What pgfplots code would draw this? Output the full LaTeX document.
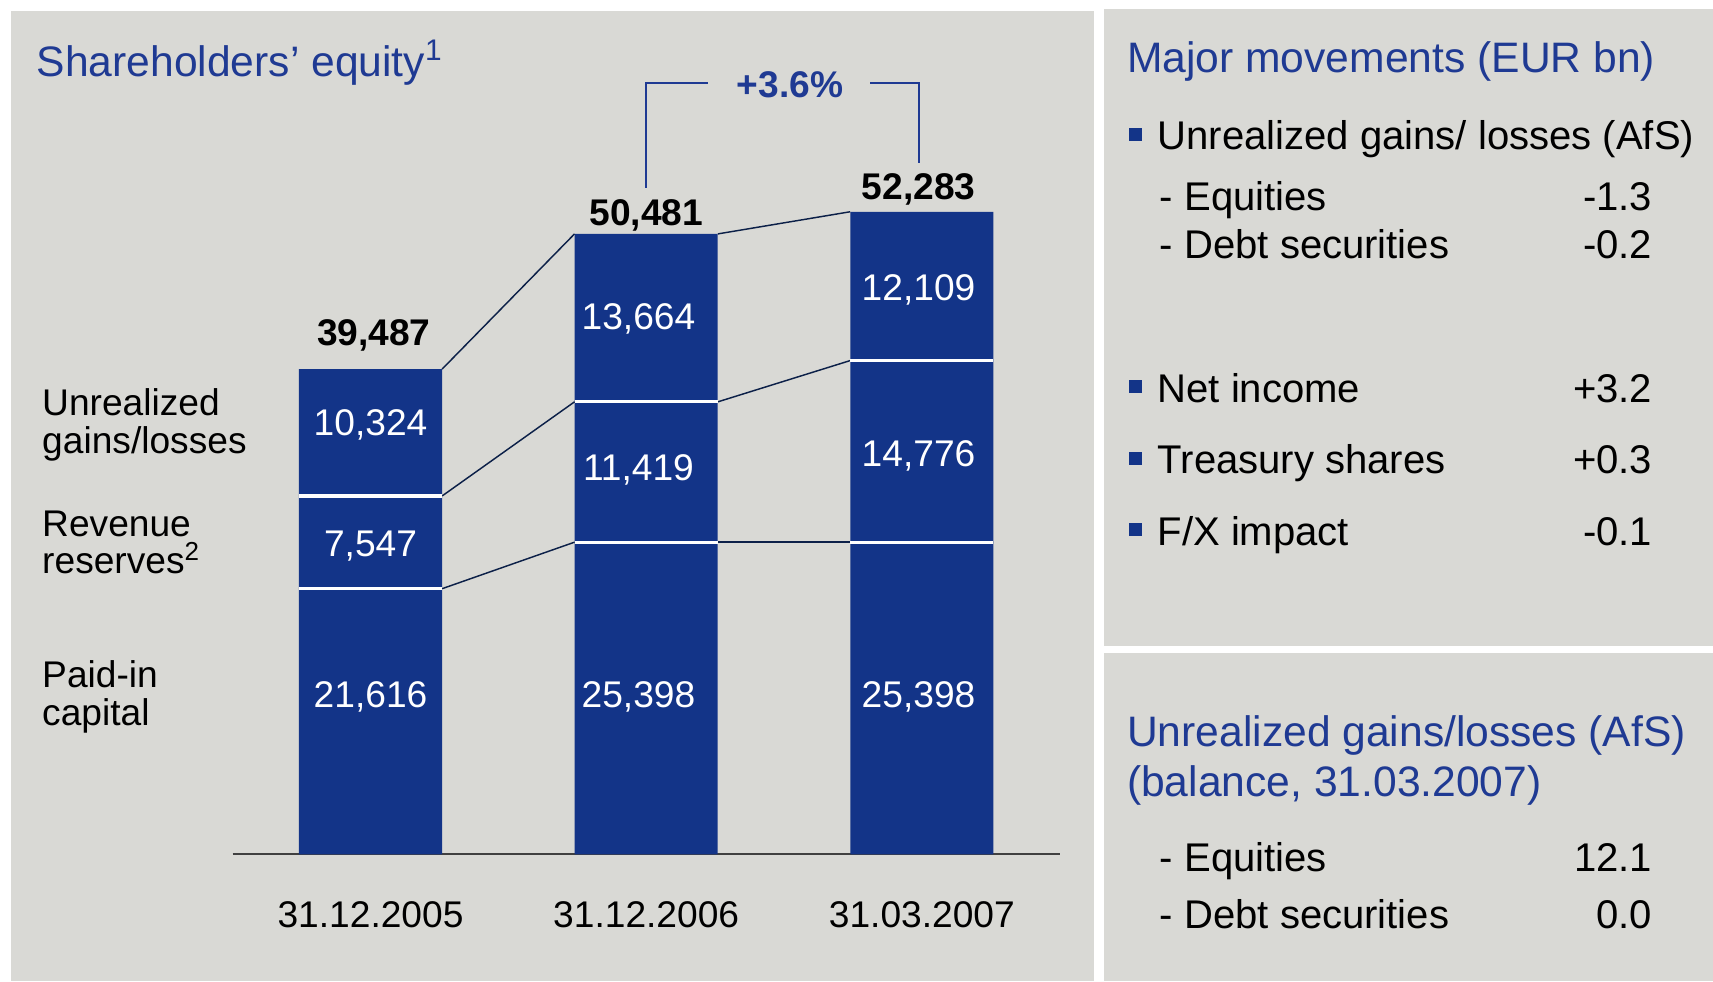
\documentclass[border=0pt]{standalone}
\usepackage{pgfplots}
\pgfplotsset{compat=1.18}
\usepackage{pgfplotstable}
\usepackage{fontspec}
\setmainfont{Liberation Sans}

\definecolor{panelgrey}{RGB}{217,217,213}
\definecolor{barblue}{RGB}{19,52,136}
\definecolor{headblue}{RGB}{31,58,147}
\definecolor{linknavy}{RGB}{12,32,72}

\newcommand{\chartfont}{\fontsize{10.2}{12.2}\selectfont}
\newcommand{\bodyfont}{\fontsize{11}{13.2}\selectfont}
\newcommand{\headfont}{\fontsize{11.7}{14}\selectfont}

% segment values, bottom to top
\pgfplotstableread{
x paid revenue unreal
0 21616 7547  10324
1 25398 11419 13664
2 25398 14776 12109
}\equity

% where the value labels sit (baselines, in axis units)
\pgfplotstableread{
x y lab
0     11911 21,616
0     24267 7,547
0     34044 10,324
0.972 11911 25,398
0.972 30400 11,419
0.972 42667 13,664
1.988 11911 25,398
1.988 31556 14,776
1.988 45067 12,109
}\seglabels

\pgfplotstableread{
x y lab
0.012 41422 39,487
1     51200 50,481
1.988 53244 52,283
}\totlabels

\pgfplotsset{eqaxis/.style={
  at={(63.9pt,-234.6pt)}, anchor=south west,
  scale only axis, width=227.1pt, height=219.375pt,
  xmin=-0.5, xmax=2.5, ymin=0, ymax=65000,
  enlargelimits=false,
}}

\tikzset{lbl/.style={anchor=base west, inner sep=0pt},
         num/.style={anchor=base east, inner sep=0pt}}

\begin{document}
\begin{tikzpicture}[x=0.3pt,y=-0.3pt]
\fill[white] (0,0) rectangle (1568,898);
\fill[panelgrey] (10,10) rectangle (1001,898);
\fill[panelgrey] (1011,8) rectangle (1568,591);
\fill[panelgrey] (1011,598) rectangle (1568,898);

\begin{axis}[eqaxis,
  ybar stacked, bar width=39.3pt,
  axis y line=none, axis x line*=bottom,
  x axis line style={-, draw=black!75, line width=0.5pt},
  xtick={0,1,2}, xticklabels={31.12.2005,31.12.2006,31.03.2007},
  xtick style={draw=none}, ytick=\empty,
  xticklabel style={anchor=base, yshift=-20.1pt, font=\chartfont},
]
\addplot[fill=barblue, draw=none] table[x=x, y=paid] {\equity};
\addplot[fill=barblue, draw=none] table[x=x, y=revenue] {\equity};
\addplot[fill=barblue, draw=none] table[x=x, y=unreal] {\equity};
\end{axis}

\begin{axis}[eqaxis, hide axis, clip=false]
% white gaps between the segments
\addplot[only marks, mark=-, mark size=19.65pt,
  mark options={draw=white, line width=0.9pt}]
  coordinates {(0,21616) (0,29163) (1,25398) (1,36817) (2,25398) (2,40174)};
% links between bars
\addplot[linknavy, line width=0.4pt] coordinates {(0.26,39487) (0.74,50481)};
\addplot[linknavy, line width=0.4pt] coordinates {(0.26,29163) (0.74,36817)};
\addplot[linknavy, line width=0.4pt] coordinates {(0.26,21616) (0.74,25398)};
\addplot[linknavy, line width=0.4pt] coordinates {(1.26,50481) (1.74,52283)};
\addplot[linknavy, line width=0.4pt] coordinates {(1.26,36817) (1.74,40174)};
\addplot[linknavy, line width=0.4pt] coordinates {(1.26,25398) (1.74,25398)};
% growth bracket
\addplot[headblue, line width=0.4pt] coordinates {(1,54222) (1,62756) (1.226,62756)};
\addplot[headblue, line width=0.4pt] coordinates {(1.813,62756) (1.99,62756) (1.99,56222)};
\node[anchor=base, text=headblue, font=\chartfont\bfseries, inner sep=0pt]
  at (axis cs:1.522,61600) {+3.6\%};
% labels
\addplot[draw=none, mark=none, nodes near coords, point meta=explicit symbolic,
  every node near coord/.append style={anchor=base, inner sep=0pt, text=white, font=\chartfont}]
  table[x=x, y=y, meta=lab] {\seglabels};
\addplot[draw=none, mark=none, nodes near coords, point meta=explicit symbolic,
  every node near coord/.append style={anchor=base, inner sep=0pt, text=black, font=\chartfont\bfseries}]
  table[x=x, y=y, meta=lab] {\totlabels};
\end{axis}

% left panel texts
\node[lbl, text=headblue, font=\headfont] at (33,70) {Shareholders’ equity\textsuperscript{1}};
\begin{scope}[font=\chartfont]
\node[lbl] at (38,380) {Unrealized};
\node[lbl] at (38,415) {gains/losses};
\node[lbl] at (38,491) {Revenue};
\node[lbl] at (38,525) {reserves\textsuperscript{2}};
\node[lbl] at (38,629) {Paid-in};
\node[lbl] at (38,664) {capital};
\end{scope}

% right top panel
\node[lbl, text=headblue, font=\headfont] at (1031,66) {Major movements (EUR bn)};
\fill[barblue] (1033,117) rectangle (1045,129);
\fill[barblue] (1033,348) rectangle (1045,360);
\fill[barblue] (1033,414) rectangle (1045,426);
\fill[barblue] (1033,479) rectangle (1045,491);
\begin{scope}[font=\bodyfont]
\node[lbl] at (1059,137) {Unrealized gains/ losses (AfS)};
\node[lbl] at (1061,193) {- Equities};
\node[num] at (1513,193) {-1.3};
\node[lbl] at (1061,237) {- Debt securities};
\node[num] at (1513,237) {-0.2};
\node[lbl] at (1059,368) {Net income};
\node[num] at (1513,368) {+3.2};
\node[lbl] at (1059,433) {Treasury shares};
\node[num] at (1513,433) {+0.3};
\node[lbl] at (1059,499) {F/X impact};
\node[num] at (1513,499) {-0.1};
\end{scope}

% right bottom panel
\node[lbl, text=headblue, font=\headfont] at (1031,683) {Unrealized gains/losses (AfS)};
\node[lbl, text=headblue, font=\headfont] at (1031,729) {(balance, 31.03.2007)};
\begin{scope}[font=\bodyfont]
\node[lbl] at (1061,798) {- Equities};
\node[num] at (1513,798) {12.1};
\node[lbl] at (1061,850) {- Debt securities};
\node[num] at (1513,850) {0.0};
\end{scope}
\end{tikzpicture}
\end{document}
